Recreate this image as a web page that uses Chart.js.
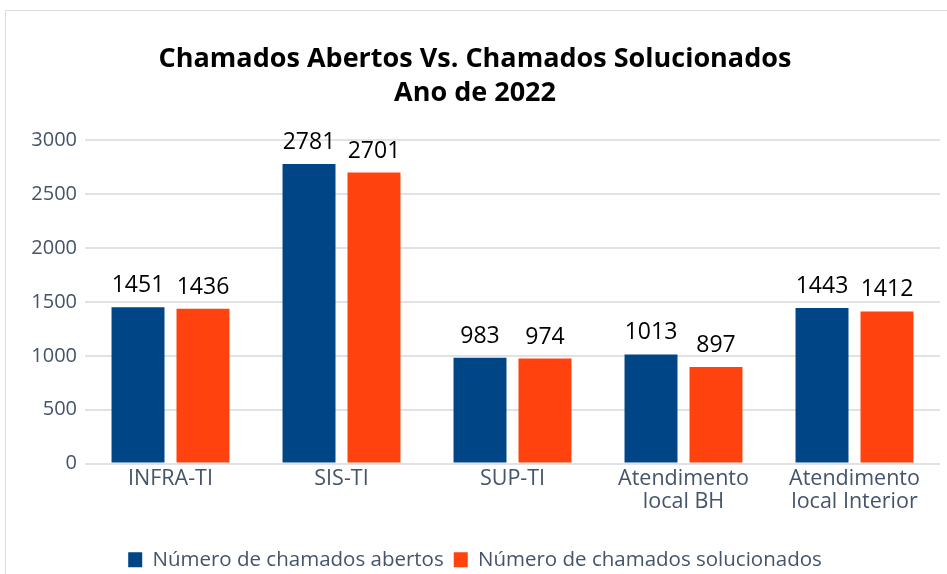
<!DOCTYPE html>
<html>
<head>
<meta charset="utf-8">
<script src="https://cdn.jsdelivr.net/npm/chart.js@4.4.0/dist/chart.umd.min.js"></script>
<style>
  body { margin: 0; background: #fff; }
  #frame { position: absolute; left: 5px; top: 10px; width: 960px; height: 600px; border: 1px solid #d9dde3; }
  #wrap { position: absolute; left: 0; top: 0; width: 947px; height: 574px; }
</style>
</head>
<body>
<div id="frame"></div>
<div id="wrap"><canvas id="chart"></canvas></div>
<script>
  // categories and series
  const categories = ['INFRA-TI', 'SIS-TI', 'SUP-TI', ['Atendimento', 'local BH'], ['Atendimento', 'local Interior']];
  const abertos = [1451, 2781, 983, 1013, 1443];
  const solucionados = [1436, 2701, 974, 897, 1412];
  const yTicks = [0, 500, 1000, 1500, 2000, 2500, 3000];

  const fontName = "'Open Sans', 'Liberation Sans', sans-serif";

  // draw the value above each bar
  const valueLabels = {
    id: 'valueLabels',
    afterDatasetsDraw(chart) {
      const ctx = chart.ctx;
      ctx.save();
      ctx.font = '23px ' + fontName;
      ctx.fillStyle = '#000';
      ctx.textAlign = 'center';
      ctx.textBaseline = 'bottom';
      chart.data.datasets.forEach((ds, i) => {
        chart.getDatasetMeta(i).data.forEach((bar, j) => {
          ctx.fillText(ds.data[j], bar.x, bar.y - 10);
        });
      });
      ctx.restore();
    }
  };

  new Chart(document.getElementById('chart'), {
    type: 'bar',
    data: {
      labels: categories,
      datasets: [
        { label: 'Número de chamados abertos', data: abertos, backgroundColor: '#004586' },
        { label: 'Número de chamados solucionados', data: solucionados, backgroundColor: '#ff420e' }
      ]
    },
    options: {
      responsive: true,
      maintainAspectRatio: false,
      animation: false,
      categoryPercentage: 0.76,
      barPercentage: 0.815,
      layout: { padding: { left: 10, right: 7, top: 0, bottom: -6 } },
      plugins: {
        title: {
          display: true,
          text: ['Chamados Abertos Vs. Chamados Solucionados', 'Ano de 2022'],
          color: '#000',
          font: { family: fontName, size: 27, weight: 'bold', lineHeight: 1.23 },
          padding: { top: 43, bottom: 31 }
        },
        legend: {
          position: 'bottom',
          labels: {
            color: '#44546a',
            font: { family: fontName, size: 20.5 },
            boxWidth: 14,
            boxHeight: 15,
            padding: 10
          }
        },
        tooltip: { enabled: false }
      },
      scales: {
        x: {
          afterFit(axis) { axis.height = 76; },
          grid: { display: false, drawTicks: false },
          border: { display: false },
          ticks: { color: '#44546a', font: { family: fontName, size: 21.5, lineHeight: 1.07 }, padding: 4, maxRotation: 0, autoSkip: false }
        },
        y: {
          min: 0,
          max: 3000,
          afterBuildTicks(axis) { axis.ticks = yTicks.map(v => ({ value: v })); },
          afterFit(axis) { axis.width = 75; },
          grid: { color: '#dfe3e8', lineWidth: 2, drawTicks: false },
          border: { display: false },
          ticks: { color: '#44546a', font: { family: fontName, size: 20 }, padding: 8, callback: v => String(v) }
        }
      }
    },
    plugins: [valueLabels]
  });
</script>
</body>
</html>
